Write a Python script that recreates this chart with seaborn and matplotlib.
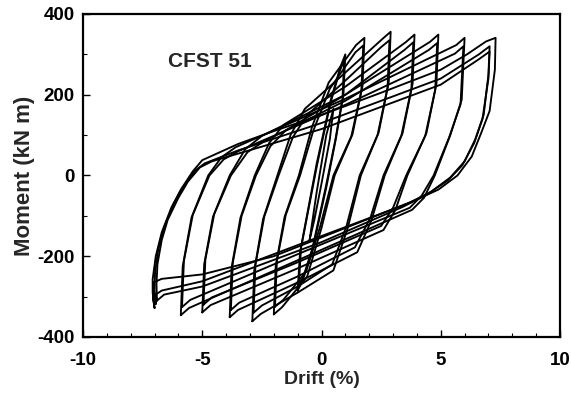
import numpy as np
import pandas as pd
import matplotlib
matplotlib.use("Agg")
import matplotlib.pyplot as plt
import seaborn as sns
from matplotlib.ticker import MultipleLocator

# ---- data: one list of vertices per loading cycle ----
cycle_names = ["0.5a", "1a", "1b", "2a", "2b", "3a", "3b", "4a", "4b",
               "5a", "5b", "6a", "6b", "7a", "7b", "7c"]

loop_drift = [
    [-0.5, -0.2, 0.2, 0.5, 0.35, 0.0, -0.3, -0.5],
    [-1.0, -0.9, -0.55, -0.2, 0.4, 0.8, 1.0, 0.92, 0.6, 0.2, -0.4, -0.8, -1.0],
    [-0.95, -0.86, -0.52, -0.18, 0.38, 0.76, 0.95, 0.88, 0.57, 0.18, -0.38, -0.76, -0.95],
    [-2.0, -1.92, -1.55, -0.95, -0.4, 0.3, 1.45, 1.8, 1.72, 1.3, 0.55, 0.0, -0.6, -1.65, -2.0],
    [-1.95, -1.87, -1.5, -0.9, -0.35, 0.35, 1.42, 1.75, 1.67, 1.25, 0.5, -0.05, -0.65, -1.6, -1.95],
    [-2.9, -2.82, -2.45, -1.85, -1.3, -0.7, 1.0, 2.55, 2.9, 2.82, 2.4, 1.65, 1.1, 0.5, -1.0, -2.55, -2.9],
    [-2.85, -2.77, -2.4, -1.8, -1.2, -0.6, 1.0, 2.5, 2.85, 2.77, 2.35, 1.6, 1.05, 0.45, -1.0, -2.5, -2.85],
    [-3.85, -3.77, -3.4, -2.8, -2.2, -1.6, 1.0, 3.55, 3.9, 3.82, 3.4, 2.65, 2.1, 1.5, -1.0, -3.5, -3.85],
    [-3.8, -3.72, -3.35, -2.75, -2.15, -1.5, 1.0, 3.5, 3.85, 3.77, 3.35, 2.6, 2.05, 1.4, -1.0, -3.45, -3.8],
    [-5.0, -4.92, -4.55, -3.85, -3.2, -2.5, 1.0, 4.55, 4.9, 4.82, 4.4, 3.6, 3.1, 2.6, -1.0, -4.65, -5.0],
    [-4.95, -4.87, -4.5, -3.8, -3.1, -2.4, 1.0, 4.5, 4.85, 4.77, 4.35, 3.55, 3.0, 2.5, -1.0, -4.6, -4.95],
    [-5.9, -5.82, -5.45, -4.75, -4.2, -3.6, 1.0, 5.65, 6.0, 5.88, 5.4, 4.75, 4.3, 3.8, -1.0, -5.55, -5.9],
    [-5.85, -5.77, -5.4, -4.7, -4.1, -3.5, 1.0, 5.6, 5.95, 5.83, 5.35, 4.7, 4.2, 3.7, -1.0, -5.5, -5.85],
    [-7.0, -7.08, -7.08, -6.95, -6.7, -6.3, -5.9, -5.4, -5.0, -3.5, -2.0, 0.0, 2.5, 5.0, 6.1, 6.9, 7.3,
     7.27, 7.05, 6.7, 6.3, 5.7, 4.9, 3.9, 1.0, -2.0, -5.0, -6.7, -7.05, -7.05, -7.0],
    [-6.95, -7.0, -6.98, -6.85, -6.6, -6.2, -5.8, -5.3, -4.9, -3.5, 0.0, 5.0, 6.6, 7.05,
     7.0, 6.8, 6.45, 6.0, 5.4, 4.6, 3.6, 0.0, -5.0, -6.7, -6.95, -6.95],
    [-6.9, -6.92, -6.88, -6.7, -6.45, -6.0, -5.6, -5.1, -4.6, 0.0, 5.0, 6.6, 7.05,
     7.0, 6.75, 6.4, 5.9, 5.3, 4.4, 3.4, 0.0, -5.0, -6.6, -6.9],
]

loop_moment = [
    [-160, -40, 100, 165, 90, -20, -110, -160],
    [-285, -190, -80, 30, 190, 270, 300, 200, 90, -30, -190, -262, -285],
    [-272, -180, -76, 28, 180, 258, 285, 190, 85, -28, -180, -250, -272],
    [-344, -224, -103, 0, 120, 230, 323, 341, 222, 102, 0, -130, -250, -326, -344],
    [-325, -211, -98, 0, 110, 215, 305, 322, 209, 97, 0, -125, -238, -308, -325],
    [-361, -235, -108, 0, 100, 165, 255, 338, 356, 231, 107, 0, -130, -235, -290, -343, -361],
    [-340, -221, -102, 0, 95, 150, 235, 318, 335, 218, 100, 0, -125, -220, -275, -322, -340],
    [-351, -228, -105, 0, 80, 125, 220, 331, 349, 227, 105, 0, -110, -190, -265, -333, -351],
    [-333, -216, -100, 0, 72, 112, 200, 312, 330, 215, 99, 0, -105, -178, -250, -315, -333],
    [-339, -220, -102, 0, 65, 98, 200, 331, 349, 227, 105, 0, -85, -135, -230, -321, -339],
    [-320, -208, -96, 0, 58, 85, 185, 311, 328, 213, 98, 0, -80, -125, -215, -302, -320],
    [-346, -225, -104, 0, 45, 70, 190, 323, 341, 188, 100, 0, -55, -85, -210, -328, -346],
    [-326, -212, -98, 0, 40, 60, 175, 302, 320, 176, 94, 0, -50, -80, -195, -308, -326],
    [-328, -290, -257, -200, -141, -80, -35, 10, 38, 78, 110, 150, 205, 262, 300, 332, 341,
     262, 160, 106, 47, 0, -35, -62, -130, -200, -245, -256, -265, -310, -328],
    [-318, -285, -240, -185, -128, -70, -28, 12, 30, 62, 130, 240, 300, 320,
     250, 150, 90, 35, -5, -40, -70, -150, -262, -285, -295, -318],
    [-310, -270, -220, -160, -110, -55, -15, 20, 35, 115, 225, 288, 307,
     240, 140, 80, 25, -12, -48, -78, -165, -275, -295, -310],
]

x_ticks = [-10, -5, 0, 5, 10]
y_ticks = [-400, -200, 0, 200, 400]
label_text = "CFST 51"

# ---- long-form table ----
rows = []
for name, xs, ys in zip(cycle_names, loop_drift, loop_moment):
    for k, (x, y) in enumerate(zip(xs, ys)):
        rows.append({"cycle": name, "step": k, "drift": x, "moment": y})
df = pd.DataFrame(rows)

sns.set_style("ticks")
plt.rcParams["font.family"] = ["Liberation Sans", "DejaVu Sans"]
plt.rcParams["axes.unicode_minus"] = False

fig = plt.figure(figsize=(5.71, 3.93), dpi=100)
ax = fig.add_axes([0.1454, 0.1425, 0.8353, 0.8219])

sns.lineplot(data=df, x="drift", y="moment", units="cycle", estimator=None,
             sort=False, color="black", linewidth=1.35, ax=ax, legend=False)

ax.set_xlim(-10, 10)
ax.set_ylim(-400, 400)
ax.set_xticks(x_ticks)
ax.set_yticks(y_ticks)
ax.xaxis.set_minor_locator(MultipleLocator(1))
ax.yaxis.set_minor_locator(MultipleLocator(100))
ax.tick_params(which="both", direction="in", top=False, right=False, colors="black")
ax.tick_params(which="major", length=5, width=1.0, labelsize=13.5)
ax.tick_params(which="minor", length=3, width=0.8)
ax.tick_params(axis="x", which="major", pad=11)
ax.tick_params(axis="y", which="major", pad=6)
for lab in ax.get_xticklabels() + ax.get_yticklabels():
    lab.set_fontweight("bold")
for sp in ax.spines.values():
    sp.set_visible(True)
    sp.set_linewidth(1.6)
    sp.set_color("black")

ax.set_xlabel("Drift (%)", fontsize=14, fontweight="bold", labelpad=1)
ax.set_ylabel("Moment (kN m)", fontsize=16, fontweight="bold", labelpad=2)
ax.text(-6.45, 282, label_text, fontsize=15, fontweight="bold", va="center", ha="left")

fig.savefig("out.png", dpi=100)
